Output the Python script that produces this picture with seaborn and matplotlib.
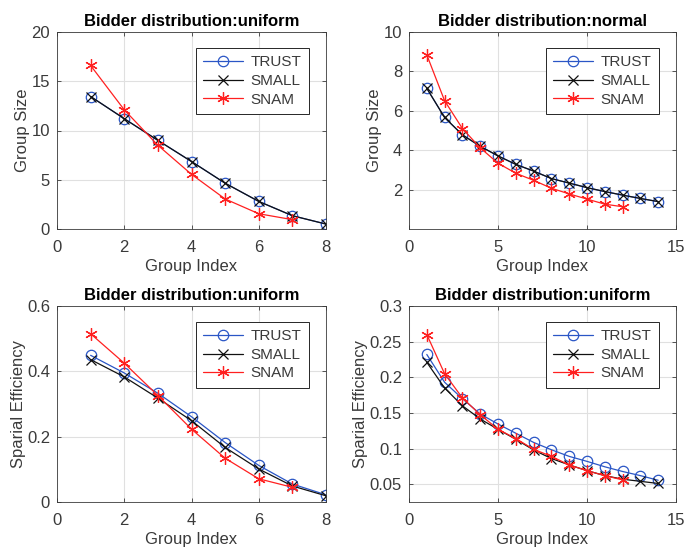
import numpy as np
import pandas as pd
import matplotlib
matplotlib.use("Agg")
import matplotlib.pyplot as plt
import seaborn as sns

sns.set_style("ticks")
plt.rcParams['font.family'] = ['Liberation Sans', 'DejaVu Sans']

# ---- data ----
x8 = [1, 2, 3, 4, 5, 6, 7, 8]
x7 = [1, 2, 3, 4, 5, 6, 7]
x14 = list(range(1, 15))
x12 = list(range(1, 13))

# Panel 1: uniform, group size
p1_trust = [13.45, 11.2, 9.0, 6.85, 4.65, 2.8, 1.35, 0.5]
p1_small = [13.45, 11.2, 9.0, 6.85, 4.65, 2.8, 1.35, 0.5]
p1_snam = [16.6, 12.1, 8.5, 5.55, 3.05, 1.55, 0.95]

# Panel 2: normal, group size
p2_trust = [7.14, 5.66, 4.78, 4.2, 3.71, 3.28, 2.94, 2.56, 2.33, 2.1, 1.9, 1.72, 1.55, 1.39]
p2_small = [7.14, 5.66, 4.78, 4.2, 3.71, 3.28, 2.94, 2.56, 2.33, 2.1, 1.9, 1.72, 1.55, 1.39]
p2_snam = [8.84, 6.51, 5.1, 4.12, 3.34, 2.83, 2.47, 2.07, 1.78, 1.52, 1.26, 1.13]

# Panel 3: uniform, spatial efficiency
p3_trust = [0.449, 0.395, 0.333, 0.261, 0.182, 0.112, 0.055, 0.022]
p3_small = [0.436, 0.383, 0.318, 0.249, 0.167, 0.101, 0.049, 0.019]
p3_snam = [0.515, 0.425, 0.326, 0.223, 0.134, 0.071, 0.045]

# Panel 4: uniform, spatial efficiency
p4_trust = [0.232, 0.193, 0.170, 0.1485, 0.1344, 0.1215, 0.1086, 0.0983, 0.089, 0.082, 0.0744, 0.0678, 0.062, 0.0555]
p4_small = [0.221, 0.185, 0.160, 0.1415, 0.127, 0.113, 0.098, 0.086, 0.077, 0.069, 0.062, 0.057, 0.054, 0.051]
p4_snam = [0.260, 0.205, 0.171, 0.1475, 0.127, 0.114, 0.099, 0.089, 0.077, 0.069, 0.062, 0.056]

labels = ["TRUST", "SMALL", "SNAM"]
colors = ["#2a56c6", "#111111", "#ff2020"]
markers = ["o", "x", (6, 2, 0)]
msizes = [7.5, 6.5, 9]

panels = [
    dict(title="Bidder distribution:uniform", ylabel="Group Size",
         xs=[x8, x8, x7], ys=[p1_trust, p1_small, p1_snam],
         xlim=(0, 8), xticks=[0, 2, 4, 6, 8], ylim=(0, 20), yticks=[0, 5, 10, 15, 20]),
    dict(title="Bidder distribution:normal", ylabel="Group Size",
         xs=[x14, x14, x12], ys=[p2_trust, p2_small, p2_snam],
         xlim=(0, 15), xticks=[0, 5, 10, 15], ylim=(0, 10), yticks=[2, 4, 6, 8, 10]),
    dict(title="Bidder distribution:uniform", ylabel="Sparial Efficiency",
         xs=[x8, x8, x7], ys=[p3_trust, p3_small, p3_snam],
         xlim=(0, 8), xticks=[0, 2, 4, 6, 8], ylim=(0, 0.6), yticks=[0, 0.2, 0.4, 0.6]),
    dict(title="Bidder distribution:uniform", ylabel="Sparial Efficiency",
         xs=[x14, x14, x12], ys=[p4_trust, p4_small, p4_snam],
         xlim=(0, 15), xticks=[0, 5, 10, 15], ylim=(0.025, 0.3),
         yticks=[0.05, 0.1, 0.15, 0.2, 0.25, 0.3]),
]

fig = plt.figure(figsize=(6.86, 5.48), dpi=100)
W, H = 686, 548
# axes rectangles in pixels: (left, top, right, bottom)
rects = [(57, 32, 326, 229), (409, 32, 676, 229),
         (57, 306, 326, 502), (409, 306, 676, 502)]

txtc = "#3a3a3a"
for p, (l, t, r, b) in zip(panels, rects):
    ax = fig.add_axes([l / W, 1 - b / H, (r - l) / W, (b - t) / H])
    for lab, c, m, ms, xs, ys in zip(labels, colors, markers, msizes, p["xs"], p["ys"]):
        df = pd.DataFrame({"x": xs, "y": ys})
        sns.lineplot(data=df, x="x", y="y", ax=ax, color=c, marker=m,
                     markersize=ms, markeredgewidth=0.9, markerfacecolor="none",
                     markeredgecolor=c, linewidth=0.9, label=lab)
    ax.set_xlim(*p["xlim"])
    ax.set_ylim(*p["ylim"])
    ax.set_xticks(p["xticks"])
    ax.set_yticks(p["yticks"])
    ax.set_yticklabels(["{:g}".format(v) for v in p["yticks"]])
    ax.grid(True, color="#e0e0e0", linewidth=0.8)
    ax.set_axisbelow(True)
    ax.tick_params(direction="in", length=3, labelsize=12, colors=txtc,
                   top=True, right=True, width=0.6)
    ax.tick_params(axis="x", pad=8)
    ax.tick_params(axis="y", pad=5)
    for s in ax.spines.values():
        s.set_visible(True)
        s.set_color(txtc)
        s.set_linewidth(0.6)
    ax.set_title(p["title"], fontsize=12, fontweight="bold", color="black", pad=4)
    ax.set_xlabel("Group Index", fontsize=12, color=txtc, labelpad=3)
    ax.set_ylabel(p["ylabel"], fontsize=12, color=txtc, labelpad=1)
    leg = ax.legend(loc="upper right", bbox_to_anchor=(0.937, 0.92), fontsize=11,
                    frameon=True, fancybox=False, framealpha=1, edgecolor="#262626",
                    handlelength=2.6, borderpad=0.5, labelspacing=0.3,
                    handletextpad=0.5, borderaxespad=0)
    leg.get_frame().set_linewidth(0.7)
    for txt in leg.get_texts():
        txt.set_color(txtc)

fig.savefig("out.png", dpi=100)
